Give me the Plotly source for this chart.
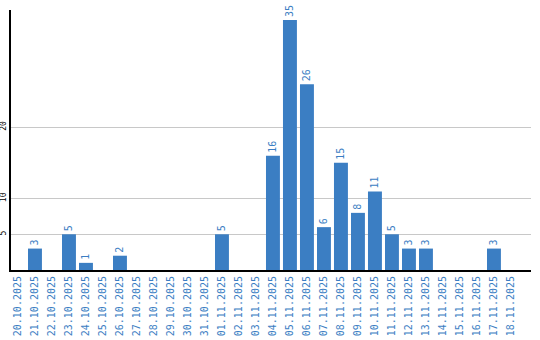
import plotly.graph_objects as go

dates = ["20.10.2025", "21.10.2025", "22.10.2025", "23.10.2025", "24.10.2025", "25.10.2025",
         "26.10.2025", "27.10.2025", "28.10.2025", "29.10.2025", "30.10.2025", "31.10.2025",
         "01.11.2025", "02.11.2025", "03.11.2025", "04.11.2025", "05.11.2025", "06.11.2025",
         "07.11.2025", "08.11.2025", "09.11.2025", "10.11.2025", "11.11.2025", "12.11.2025",
         "13.11.2025", "14.11.2025", "15.11.2025", "16.11.2025", "17.11.2025", "18.11.2025"]
values = [0, 3, 0, 5, 1, 0, 2, 0, 0, 0, 0, 0, 5, 0, 0, 16, 35, 26, 6, 15, 8, 11, 5, 3, 3, 0, 0, 0, 3, 0]
y_ticks = [5, 10, 20]

labels = [str(v) if v > 0 else "" for v in values]

blue = "#3b7ec3"
fig = go.Figure(go.Bar(
    x=dates, y=values, marker=dict(color=blue, line=dict(width=0)),
    text=labels, textposition="outside", textangle=-90,
    textfont=dict(color=blue, size=10, family="DejaVu Sans Mono"),
    cliponaxis=False,
))
fig.update_layout(
    width=540, height=340,
    margin=dict(l=11, r=9, t=10, b=70),
    plot_bgcolor="white", paper_bgcolor="white",
    bargap=0.18, showlegend=False,
    xaxis=dict(type="category", tickangle=-90, automargin=False, range=[-0.41, 30.18],
               tickfont=dict(color=blue, size=10, family="DejaVu Sans Mono"),
               showline=True, linecolor="black", linewidth=2, ticks="", showgrid=False),
    yaxis=dict(range=[0, 36.4], tickvals=y_ticks, tickangle=-90, automargin=False,
               tickfont=dict(color="black", size=8, family="DejaVu Sans Mono"),
               showline=True, linecolor="black", linewidth=2, ticks="",
               showgrid=True, gridcolor="#c8c8c8", gridwidth=1, zeroline=False,
               ticklabelstandoff=0),
)
fig.write_html("out.html")
